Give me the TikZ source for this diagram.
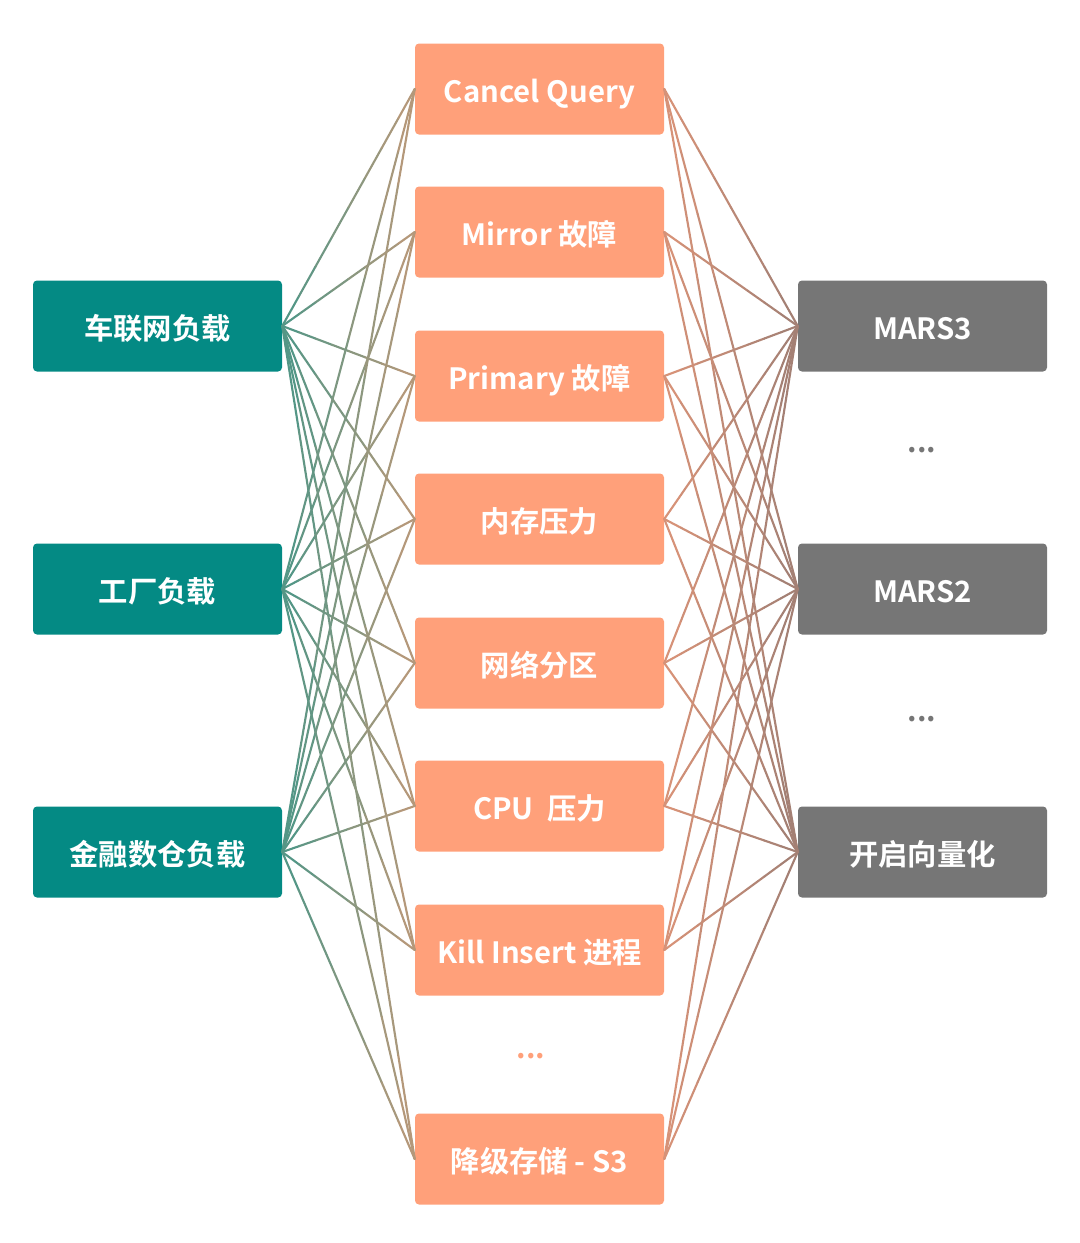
\documentclass[tikz,border=0pt]{standalone}
\usepackage{fontspec}
\setmainfont{Noto Sans CJK SC}[BoldFont={Noto Sans CJK SC Bold}]
\usetikzlibrary{positioning,calc}
\definecolor{loadTeal}{RGB}{4,138,132}
\definecolor{faultSalmon}{RGB}{255,160,122}
\definecolor{featGray}{RGB}{118,118,118}
\definecolor{leftStart}{RGB}{84,150,134}
\definecolor{leftEnd}{RGB}{180,152,122}
\definecolor{rightStart}{RGB}{214,146,120}
\definecolor{rightEnd}{RGB}{164,128,116}
\tikzset{
  load/.style={rounded corners=3pt, fill=loadTeal, text=white, align=center, minimum width=186.75pt, minimum height=68.25pt, text height=21pt, text depth=1.5pt, font=\fontsize{22}{26}\selectfont\bfseries},
  fault/.style={rounded corners=3pt, fill=faultSalmon, text=white, align=center, minimum width=186.75pt, minimum height=68.25pt, text height=21pt, text depth=1.5pt, font=\fontsize{22}{26}\selectfont\bfseries},
  feat/.style={rounded corners=3pt, fill=featGray, text=white, align=center, minimum width=186.75pt, minimum height=68.25pt, text height=21pt, text depth=1.5pt, font=\fontsize{22}{26}\selectfont\bfseries},
  link/.style={line width=1.6pt, line cap=round},
  dots/.style={anchor=base, font=\fontsize{22}{26}\selectfont\bfseries}
}

\begin{document}
\begin{tikzpicture}[x=0.75pt,y=-0.75pt]
  \useasboundingbox (0,0) rectangle (1080,1243);

  \node[load] (carnet) at (157.5,326) {车联网负载};
  \node[load] (factory) at (157.5,589) {工厂负载};
  \node[load] (finance) at (157.5,852) {金融数仓负载};

  \node[fault] (m1) at (539.5,89) {Cancel Query};
  \node[fault] (m2) at (539.5,232) {Mirror 故障};
  \node[fault] (m3) at (539.5,376) {Primary 故障};
  \node[fault] (m4) at (539.5,519) {内存压力};
  \node[fault] (m5) at (539.5,663) {网络分区};
  \node[fault] (m6) at (539.5,806) {CPU\ \ 压力};
  \node[fault] (m7) at (539.5,950) {Kill Insert 进程};
  \node[fault] (m8) at (539.5,1159) {降级存储 - S3};
  \node[dots, text=faultSalmon] (mdots) at (531,1058) {...};

  \node[feat] (mars3) at (922.5,326) {MARS3};
  \node[feat] (mars2) at (922.5,589) {MARS2};
  \node[feat] (vector) at (922.5,852) {开启向量化};
  \node[dots, text=featGray] (rdots1) at (922,452) {...};
  \node[dots, text=featGray] (rdots2) at (922,721) {...};

  % links, coloured in steps from one end to the other
  \foreach \l in {carnet,factory,finance}
    \foreach \m in {m1,m2,m3,m4,m5,m6,m7,m8}
      \foreach \i in {0,...,7} {
        \pgfmathtruncatemacro{\p}{100-\i*100/7}
        \pgfmathsetmacro{\a}{\i/8}
        \pgfmathsetmacro{\b}{(\i+1)/8}
        \draw[link, draw=leftStart!\p!leftEnd] ($(\l.east)!\a!(\m.west)$) -- ($(\l.east)!\b!(\m.west)$);
      }
  \foreach \m in {m1,m2,m3,m4,m5,m6,m7,m8}
    \foreach \r in {mars3,mars2,vector}
      \foreach \i in {0,...,7} {
        \pgfmathtruncatemacro{\p}{100-\i*100/7}
        \pgfmathsetmacro{\a}{\i/8}
        \pgfmathsetmacro{\b}{(\i+1)/8}
        \draw[link, draw=rightStart!\p!rightEnd] ($(\m.east)!\a!(\r.west)$) -- ($(\m.east)!\b!(\r.west)$);
      }
\end{tikzpicture}
\end{document}
